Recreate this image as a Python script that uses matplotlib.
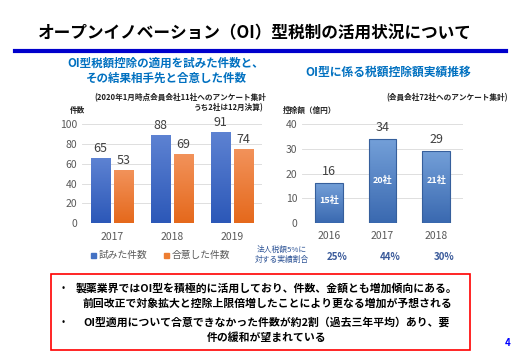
import numpy as np
import matplotlib
matplotlib.use("Agg")
import matplotlib.pyplot as plt
from matplotlib.colors import LinearSegmentedColormap
from matplotlib.patches import Rectangle

plt.rcParams['font.family'] = ['Noto Sans CJK JP', 'DejaVu Sans']

# left chart data
years_left = ["2017", "2018", "2019"]
tried = [65, 88, 91]
agreed = [53, 69, 74]

# right chart data
years_right = ["2016", "2017", "2018"]
deduction = [16, 34, 29]
companies = ["15社", "20社", "21社"]
company_pos = [8.9, 17.3, 17.0]
ratio = ["25%", "44%", "30%"]

W, H = 520, 360
fig = plt.figure(figsize=(5.2, 3.6), dpi=100)
fig.patch.set_facecolor("white")


def fx(x):
    return x / W


def fy(y):
    return 1 - y / H


def ftext(x, y, s, **kw):
    fig.text(fx(x), fy(y), s, va="center", **kw)


def grad_bar(ax, x, w, h, top, bottom, edge=None):
    cmap = LinearSegmentedColormap.from_list("g", [bottom, top])
    g = np.linspace(0, 1, 64).reshape(-1, 1)
    ax.imshow(g, extent=[x - w / 2, x + w / 2, 0, h], origin="lower",
              aspect="auto", cmap=cmap, zorder=2)
    if edge:
        ax.add_patch(Rectangle((x - w / 2, 0), w, h, fill=False,
                               edgecolor=edge, lw=0.8, zorder=3))


def style_axes(ax):
    for s in ax.spines.values():
        s.set_visible(False)
    ax.tick_params(length=0, labelsize=7.5, labelcolor="#595959")
    ax.grid(axis="y", color="#d9d9d9", lw=0.6, zorder=0)
    ax.set_axisbelow(True)


# header
ftext(255, 33, "オープンイノベーション（OI）型税制の活用状況について",
      ha="center", fontsize=12, fontweight="bold", color="black")
fig.add_artist(plt.Line2D([fx(15), fx(506)], [fy(51), fy(51)],
                          color="#0000cc", lw=3))

# left chart
ftext(166, 63, "OI型税額控除の適用を試みた件数と、", ha="center",
      fontsize=8.3, fontweight="bold", color="#0070c0")
ftext(166, 78, "その結果相手先と合意した件数", ha="center",
      fontsize=8.3, fontweight="bold", color="#0070c0")
ftext(266, 98, "(2020年1月時点会員会社11社へのアンケート集計", ha="right",
      fontsize=5.5, fontweight="bold", color="#222222")
ftext(264, 108, "うち2社は12月決算)", ha="right",
      fontsize=5.5, fontweight="bold", color="#222222")
ftext(70, 110, "件数", ha="left", fontsize=5.5, fontweight="bold",
      color="#222222")

axl = fig.add_axes([fx(82), fy(223.3), 180 / W, 99.3 / H])
style_axes(axl)
xl = np.arange(len(years_left))
bw, off = 0.32, 0.19
for i in range(len(xl)):
    grad_bar(axl, xl[i] - off, bw, tried[i], "#5d82d2", "#2c58b8")
    grad_bar(axl, xl[i] + off, bw, agreed[i], "#f2925a", "#e5691c")
    axl.text(xl[i] - off, tried[i] + 4, str(tried[i]), ha="center",
             va="bottom", fontsize=9, color="#404040")
    axl.text(xl[i] + off, agreed[i] + 4, str(agreed[i]), ha="center",
             va="bottom", fontsize=9, color="#404040")
axl.set_xlim(-0.5, 2.5)
axl.set_ylim(0, 100)
axl.set_yticks(range(0, 101, 20))
axl.set_xticks(xl)
axl.set_xticklabels(years_left)
axl.tick_params(axis="x", pad=6)

# legend
fig.add_artist(Rectangle((fx(91), fy(258)), 5 / W, 5 / H,
                         color="#4472c4", transform=fig.transFigure))
ftext(99, 255, "試みた件数", ha="left", fontsize=7, color="#595959")
fig.add_artist(Rectangle((fx(164), fy(258)), 5 / W, 5 / H,
                         color="#ed7d31", transform=fig.transFigure))
ftext(172, 255, "合意した件数", ha="left", fontsize=7, color="#595959")

# right chart
ftext(388, 72, "OI型に係る税額控除額実績推移", ha="center",
      fontsize=8.5, fontweight="bold", color="#0070c0")
ftext(508, 98, "(会員会社72社へのアンケート集計)", ha="right",
      fontsize=5.5, fontweight="bold", color="#222222")
ftext(283, 110, "控除額（億円）", ha="left", fontsize=5.5,
      fontweight="bold", color="#222222")

axr = fig.add_axes([fx(302), fy(222.7), 161 / W, 98.4 / H])
style_axes(axr)
xr = np.arange(len(years_right))
for i in range(len(xr)):
    grad_bar(axr, xr[i], 0.52, deduction[i], "#739fd8", "#3a69b0",
             edge="#365f9c")
    axr.text(xr[i], deduction[i] + 2, str(deduction[i]), ha="center",
             va="bottom", fontsize=9, color="#404040")
    axr.text(xr[i], company_pos[i], companies[i], ha="center",
             va="center", fontsize=6.5, fontweight="bold", color="white",
             zorder=4)
axr.set_xlim(-0.5, 2.5)
axr.set_ylim(0, 40)
axr.set_yticks(range(0, 41, 10))
axr.set_xticks(xr)
axr.set_xticklabels(years_right)
axr.tick_params(axis="x", pad=6)

ftext(282, 250, "法人税額5%に", ha="center", fontsize=5.6,
      color="#2f5597")
ftext(282, 260, "対する実績割合", ha="center", fontsize=5.6,
      color="#2f5597")
for i, r in enumerate(ratio):
    xpix = 302 + (xr[i] + 0.5) * 161 / 3 + 8
    ftext(xpix, 257, r, ha="center", fontsize=7, fontweight="bold",
          color="#3a5a9a")

# summary box
fig.add_artist(Rectangle((fx(51), fy(350)), 419 / W, 76 / H,
                         fill=False, edgecolor="#ff0000", lw=1.2,
                         transform=fig.transFigure))
lines = [
    (288, "製薬業界ではOI型を積極的に活用しており、件数、金額とも増加傾向にある。", True),
    (304, "前回改正で対象拡大と控除上限倍増したことにより更なる増加が予想される", False),
    (322, "OI型適用について合意できなかった件数が約2割（過去三年平均）あり、要", True),
    (338, "件の緩和が望まれている", False),
]
for y, s, bullet in lines:
    if bullet:
        ftext(63, y, "•", ha="center", fontsize=7, color="black")
    ftext(267, y, s, ha="center", fontsize=7.8, fontweight="bold",
          color="black")

ftext(508, 343, "4", ha="center", fontsize=7, fontweight="bold",
      color="#0000ff")

fig.savefig("out.png", dpi=100, facecolor="white")
